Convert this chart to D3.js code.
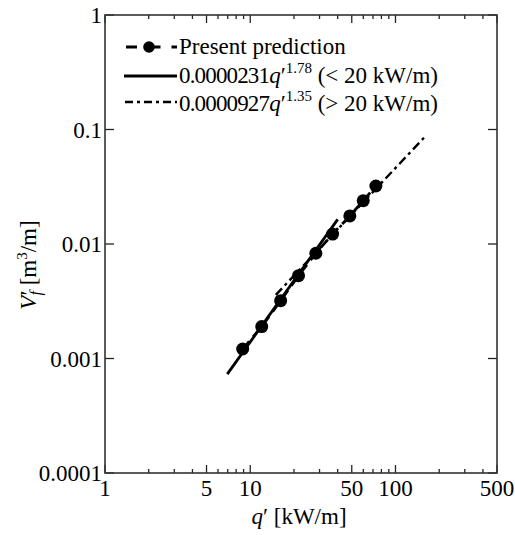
<!DOCTYPE html>
<html>
<head>
<meta charset="utf-8">
<script src="https://cdn.jsdelivr.net/npm/d3@7"></script>
<style>
  body { margin: 0; background: #fff; }
</style>
</head>
<body>
<div id="chart"></div>
<script>
// present prediction points
const predQ = [8.87, 12.0, 16.2, 21.5, 28.3, 36.9, 48.5, 60.0, 73.3]
const predV = [0.00121, 0.0019, 0.0032, 0.00529, 0.0083, 0.0122, 0.0176, 0.0239, 0.0321]

// fitted lines (end points)
const fitLowQ = [6.95, 40]
const fitLowV = [0.00073, 0.0164]
const fitHighQ = [15, 160]
const fitHighV = [0.00359, 0.0868]

const xMajor = [1, 5, 10, 50, 100, 500]
const xMinor = [2, 3, 4, 6, 7, 8, 9, 20, 30, 40, 60, 70, 80, 90, 200, 300, 400]
const yMajor = [0.0001, 0.001, 0.01, 0.1, 1]
const yLabels = ['0.0001', '0.001', '0.01', '0.1', '1']

const w = 515
const h = 535
const pLeft = 105, pRight = 497, pTop = 15, pBottom = 473
const serif = '"Liberation Serif", "Times New Roman", serif'

const svg = d3.select('#chart').append('svg').attr('width', w).attr('height', h)

const x = d3.scaleLog().domain([1, 500]).range([pLeft, pRight])
const y = d3.scaleLog().domain([0.0001, 1]).range([pBottom, pTop])

// ticks (inward, mirrored on top and right)
const tickColor = '#222'
function xTicks(vals, len) {
    svg.append('g').selectAll('line')
        .data(vals).enter().append('line')
        .attr('x1', d => x(d)).attr('x2', d => x(d))
        .attr('y1', pBottom).attr('y2', pBottom - len)
        .attr('stroke', tickColor).attr('stroke-width', 1.3)
    svg.append('g').selectAll('line')
        .data(vals).enter().append('line')
        .attr('x1', d => x(d)).attr('x2', d => x(d))
        .attr('y1', pTop).attr('y2', pTop + len)
        .attr('stroke', tickColor).attr('stroke-width', 1.3)
}
xTicks(xMajor, 8)
xTicks(xMinor, 4)

svg.append('g').selectAll('line')
    .data(yMajor).enter().append('line')
    .attr('x1', pLeft).attr('x2', pLeft + 9)
    .attr('y1', d => y(d)).attr('y2', d => y(d))
    .attr('stroke', tickColor).attr('stroke-width', 1.3)
svg.append('g').selectAll('line')
    .data(yMajor).enter().append('line')
    .attr('x1', pRight).attr('x2', pRight - 9)
    .attr('y1', d => y(d)).attr('y2', d => y(d))
    .attr('stroke', tickColor).attr('stroke-width', 1.3)

// frame
svg.append('rect')
    .attr('x', pLeft).attr('y', pTop)
    .attr('width', pRight - pLeft).attr('height', pBottom - pTop)
    .attr('fill', 'none').attr('stroke', '#333').attr('stroke-width', 1.6)

// tick labels
svg.append('g').selectAll('text')
    .data(xMajor).enter().append('text')
    .attr('x', d => x(d)).attr('y', 496)
    .attr('text-anchor', 'middle')
    .style('font-family', serif).style('font-size', '23px')
    .text(d => d)

svg.append('g').selectAll('text')
    .data(yMajor).enter().append('text')
    .attr('x', pLeft - 3).attr('y', d => y(d) + 8)
    .attr('text-anchor', 'end')
    .style('font-family', serif).style('font-size', '23px')
    .text((d, i) => yLabels[i])

// axis titles
const xt = svg.append('text')
    .attr('x', 299).attr('y', 524)
    .attr('text-anchor', 'middle')
    .style('font-family', serif).style('font-size', '23px')
xt.append('tspan').style('font-style', 'italic').text('q')
xt.append('tspan').text('\u2032 [kW/m]')

const yt = svg.append('text')
    .attr('transform', 'translate(36,265) rotate(-90)')
    .attr('text-anchor', 'middle')
    .style('font-family', serif).style('font-size', '23px')
yt.append('tspan').style('font-style', 'italic').text('V')
yt.append('tspan').text('\u2032')
yt.append('tspan').style('font-style', 'italic').style('font-size', '16px').attr('dy', 5).attr('dx', -5).text('f')
yt.append('tspan').attr('dy', -5).text(' [m')
yt.append('tspan').style('font-size', '15px').attr('dy', -9).text('3')
yt.append('tspan').attr('dy', 9).text('/m]')

// lines
const line = d3.line().x(d => x(d[0])).y(d => y(d[1]))

svg.append('path')
    .datum(d3.zip(fitLowQ, fitLowV))
    .attr('d', line)
    .attr('fill', 'none').attr('stroke', '#000').attr('stroke-width', 2.8)

svg.append('path')
    .datum(d3.zip(fitHighQ, fitHighV))
    .attr('d', line)
    .attr('fill', 'none').attr('stroke', '#000').attr('stroke-width', 2.4)
    .attr('stroke-dasharray', '9,4,3,4')

svg.append('path')
    .datum(d3.zip(predQ, predV))
    .attr('d', line)
    .attr('fill', 'none').attr('stroke', '#000').attr('stroke-width', 2.8)
    .attr('stroke-dasharray', '10,6')

svg.append('g').selectAll('circle')
    .data(d3.zip(predQ, predV)).enter().append('circle')
    .attr('cx', d => x(d[0])).attr('cy', d => y(d[1]))
    .attr('r', 6.5).attr('fill', '#000')

// legend
const lg = svg.append('g')
const rows = [54, 83, 111]
lg.append('line').attr('x1', 126).attr('x2', 177).attr('y1', rows[0] - 7).attr('y2', rows[0] - 7)
    .attr('stroke', '#000').attr('stroke-width', 2.8).attr('stroke-dasharray', '11,12.5,11')
lg.append('circle').attr('cx', 149).attr('cy', rows[0] - 7).attr('r', 5.8).attr('fill', '#000')
lg.append('line').attr('x1', 124).attr('x2', 177).attr('y1', rows[1] - 7).attr('y2', rows[1] - 7)
    .attr('stroke', '#000').attr('stroke-width', 2.8)
lg.append('line').attr('x1', 125).attr('x2', 177).attr('y1', rows[2] - 9).attr('y2', rows[2] - 9)
    .attr('stroke', '#000').attr('stroke-width', 2.4).attr('stroke-dasharray', '8,4,3,4')

lg.append('text').attr('x', 179).attr('y', rows[0])
    .style('font-family', serif).style('font-size', '23px').text('Present prediction')

function fitLabel(yy, coef, expo, range) {
    const t = lg.append('text').attr('x', 179).attr('y', yy)
        .style('font-family', serif).style('font-size', '23px')
    t.append('tspan').attr('textLength', 91).text(coef)
    t.append('tspan').style('font-style', 'italic').text('q')
    t.append('tspan').text('\u2032')
    t.append('tspan').style('font-size', '15px').attr('dy', -10).text(expo)
    t.append('tspan').attr('dy', 10).text(' ' + range)
}
fitLabel(rows[1], '0.0000231', '1.78', '(< 20 kW/m)')
fitLabel(rows[2], '0.0000927', '1.35', '(> 20 kW/m)')
</script>
</body>
</html>
